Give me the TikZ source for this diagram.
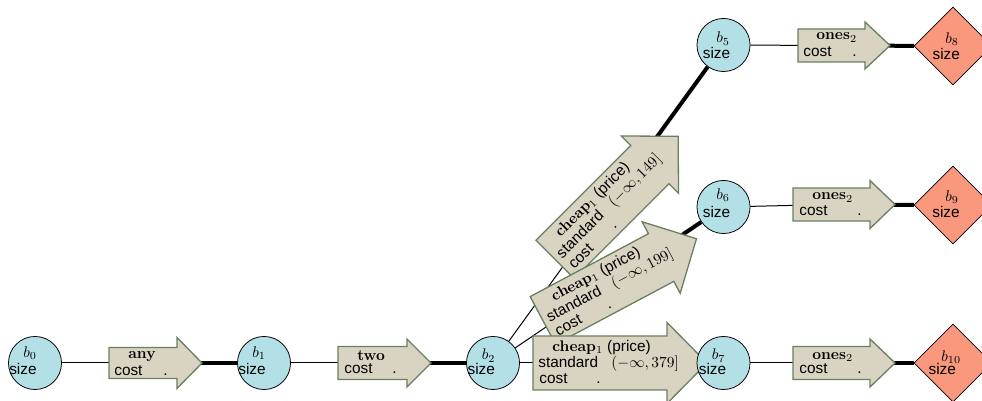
\documentclass[tikz,border=0pt]{standalone}
\usepackage{fontspec}
\newfontfamily\hv{Liberation Sans}
\usetikzlibrary{shapes.geometric}
\pgfdeclarelayer{background}
\pgfsetlayers{background,main}

\definecolor{statefill}{RGB}{178,224,230}
\definecolor{leaffill}{RGB}{249,152,124}
\definecolor{tagfill}{RGB}{217,212,193}
\definecolor{tagline}{RGB}{104,128,96}

% arrow outline in local coordinates:
% #1 half body length, #2 half body width, #3 half head width, #4 head length
\newcommand\tagpath[4]{%
  \path[tagbox] (-#1,-#2) -- (#1,-#2) -- (#1,-#3) -- ({#1+#4},0)
    -- (#1,#3) -- (#1,#2) -- (-#1,#2) -- cycle;}

% labels of a state: node, index, b offset, size offset
\newcommand\statetext[6]{%
  \node[txt] (#1-n) at ([shift={(#3,#4)}]#1.center) {$b_{#2}$};
  \node[txt] (#1-s) at ([shift={(#5,#6)}]#1.center) {size};}

\newcommand\boldtitle[1]{{\rmfamily\bfseries #1}}

\begin{document}
\begin{tikzpicture}[x=0.65pt, y=0.65pt,
  state/.style={circle, draw=black, line width=0.5pt, fill=statefill,
    minimum size=34.5pt, inner sep=0pt},
  leaf/.style={diamond, draw=black, line width=0.5pt, fill=leaffill,
    minimum width=50.7pt, minimum height=50.7pt, inner sep=0pt},
  txt/.style={anchor=base west, inner sep=0pt, font=\hv},
  tagbox/.style={fill=tagfill, draw=tagline, line width=0.85pt},
  thinedge/.style={line width=0.65pt},
  heavyedge/.style={line width=2.6pt},
]
\useasboundingbox (0,0) rectangle (982,401);

% ---------- cost tags ----------
\begin{scope}[shift={(143,38)}]
  \tagpath{34}{15.5}{25.5}{25}
  \coordinate (tany) at (0,0);
  \node[txt] (tany-t) at (-15,4.5) {\boldtitle{any}};
  \node[txt] (tany-c) at (-29,-12.5) {cost};
  \node[txt] (tany-d) at (20,-12.5) {.};
\end{scope}

\begin{scope}[shift={(372.5,38)}]
  \tagpath{34.5}{16.5}{24}{24}
  \coordinate (ttwo) at (0,0);
  \node[txt] (ttwo-t) at (-15.5,2.5) {\boldtitle{two}};
  \node[txt] (ttwo-c) at (-28.5,-10.5) {cost};
  \node[txt] (ttwo-d) at (19.5,-10.5) {.};
\end{scope}

\begin{scope}[shift={(602.5,189)}, rotate=45, transform shape]
  \tagpath{67}{27}{40.5}{40}
  \coordinate (c149) at (0,0);
  \node[txt] (c149-t) at (-48,11.5) {\boldtitle{cheap}$_1$ (price)};
  \node[txt] (c149-s) at (-62,-5) {standard};
  \node[txt] (c149-i) at (11,-5) {$(-\infty,149]$};
  \node[txt] (c149-c) at (-61,-21) {cost};
  \node[txt] (c149-d) at (-4,-21) {.};
\end{scope}

\begin{scope}[shift={(602,112)}, rotate=28, transform shape]
  \tagpath{67}{27}{40.5}{40}
  \coordinate (c199) at (0,0);
  \node[txt] (c199-t) at (-48,11.5) {\boldtitle{cheap}$_1$ (price)};
  \node[txt] (c199-s) at (-62,-5) {standard};
  \node[txt] (c199-i) at (11,-5) {$(-\infty,199]$};
  \node[txt] (c199-c) at (-61,-21) {cost};
  \node[txt] (c199-d) at (-4,-21) {.};
\end{scope}

\begin{scope}[shift={(600,38)}]
  \tagpath{67}{27}{40.5}{40}
  \coordinate (c379) at (0,0);
  \node[txt] (c379-t) at (-48,11.5) {\boldtitle{cheap}$_1$ (price)};
  \node[txt] (c379-s) at (-62,-5) {standard};
  \node[txt] (c379-i) at (11,-5) {$(-\infty,379]$};
  \node[txt] (c379-c) at (-61,-21) {cost};
  \node[txt] (c379-d) at (-4,-21) {.};
\end{scope}

\begin{scope}[shift={(831.5,355.5)}]
  \tagpath{33.5}{16.5}{23.5}{25}
  \coordinate (o5) at (0,0);
  \node[txt] (o5-t) at (-15.5,5.5) {\boldtitle{ones}$_2$};
  \node[txt] (o5-c) at (-28.5,-11) {cost};
  \node[txt] (o5-d) at (20.5,-11) {.};
\end{scope}

\begin{scope}[shift={(831.5,196.5)}]
  \tagpath{38.5}{16.5}{24}{25}
  \coordinate (o6) at (0,0);
  \node[txt] (o6-t) at (-19.5,4.5) {\boldtitle{ones}$_2$};
  \node[txt] (o6-c) at (-32.5,-11) {cost};
  \node[txt] (o6-d) at (25.5,-11) {.};
\end{scope}

\begin{scope}[shift={(831.5,38)}]
  \tagpath{38.5}{16.5}{24}{25}
  \coordinate (o7) at (0,0);
  \node[txt] (o7-t) at (-19.5,3.7) {\boldtitle{ones}$_2$};
  \node[txt] (o7-c) at (-32.5,-10.3) {cost};
  \node[txt] (o7-d) at (25.5,-10.3) {.};
\end{scope}

% ---------- states ----------
\node[state] (b0) at (35,38) {};
\node[state] (b1) at (264,38) {};
\node[state] (b2) at (493,38) {};
\node[state] (b5) at (723.5,356) {};
\node[state] (b6) at (723.5,194) {};
\node[state] (b7) at (723.5,38) {};

\statetext{b0}{0}{-12}{5.5}{-26}{-12}
\statetext{b1}{1}{-12}{5.5}{-26}{-12}
\statetext{b2}{2}{-11.5}{3}{-25.7}{-12}
\statetext{b5}{5}{-7.5}{2}{-21}{-14}
\statetext{b6}{6}{-7.5}{7.5}{-21}{-10.3}
\statetext{b7}{7}{-12}{3}{-25}{-12}

% ---------- final states ----------
\node[leaf] (b8) at (953,355) {};
\node[leaf] (b9) at (953,196) {};
\node[leaf] (b10) at (953,38) {};

\statetext{b8}{8}{-8}{2.7}{-20.7}{-13.3}
\statetext{b9}{9}{-8}{3.3}{-21}{-12.3}
\statetext{b10}{10}{-12}{1.3}{-24.7}{-12}

% ---------- connectors ----------
\begin{pgfonlayer}{background}
  \draw[thinedge] (b0) -- (tany);
  \draw[heavyedge] (tany) -- (b1);
  \draw[thinedge] (b1) -- (ttwo);
  \draw[heavyedge] (ttwo) -- (b2);
  \draw[thinedge] (b2) -- (c149);
  \draw[heavyedge] (c149) -- (b5);
  \draw[thinedge] (b2) -- (c199);
  \draw[heavyedge] (c199) -- (b6);
  \draw[thinedge] (b2) -- (c379);
  \draw[heavyedge] (c379) -- (b7);
  \draw[thinedge] (b5) -- (o5);
  \draw[heavyedge] (o5) -- (b8);
  \draw[thinedge] (b6) -- (o6);
  \draw[heavyedge] (o6) -- (b9);
  \draw[thinedge] (b7) -- (o7);
  \draw[heavyedge] (o7) -- (b10);
\end{pgfonlayer}
\end{tikzpicture}
\end{document}
